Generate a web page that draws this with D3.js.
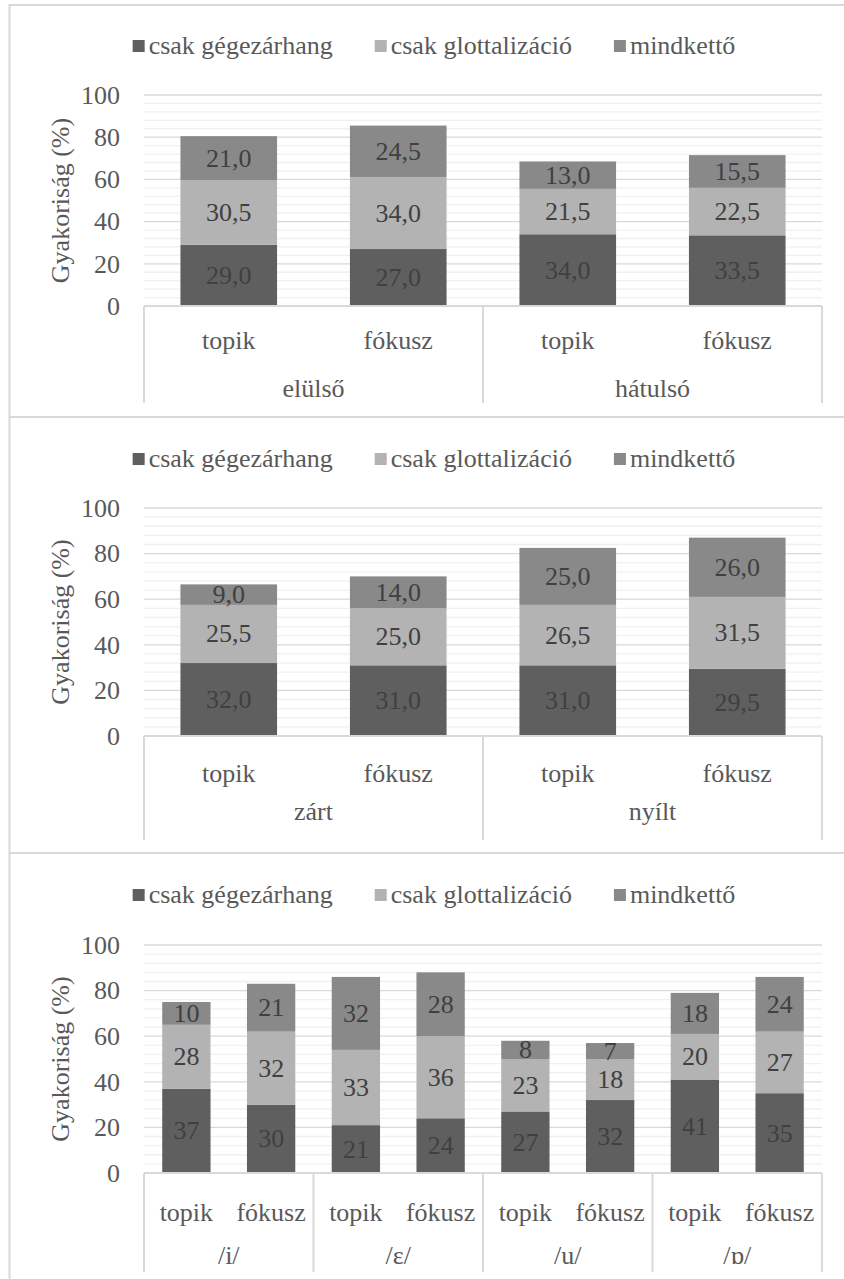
<!DOCTYPE html>
<html>
<head>
<meta charset="utf-8">
<script src="https://cdn.jsdelivr.net/npm/d3@7"></script>
<style>
  body { margin: 0; background: #fff; }
</style>
</head>
<body>
<div id="chart"></div>
<script>
// series + tick labels
var seriesNames = ["csak gégezárhang", "csak glottalizáció", "mindkettő"];
var seriesColors = ["#5f5f5f", "#b3b3b3", "#898989"];
var subCats = ["topik", "fókusz"];
var yTicks = [0, 20, 40, 60, 80, 100];

// panel 1: elülső / hátulsó
var groups1 = ["elülső", "hátulsó"];
var gege1 = [29.0, 27.0, 34.0, 33.5];
var glott1 = [30.5, 34.0, 21.5, 22.5];
var mind1 = [21.0, 24.5, 13.0, 15.5];

// panel 2: zárt / nyílt
var groups2 = ["zárt", "nyílt"];
var gege2 = [32.0, 31.0, 31.0, 29.5];
var glott2 = [25.5, 25.0, 26.5, 31.5];
var mind2 = [9.0, 14.0, 25.0, 26.0];

// panel 3: vowels
var groups3 = ["/i/", "/ɛ/", "/u/", "/ɒ/"];
var gege3 = [37, 30, 21, 24, 27, 32, 41, 35];
var glott3 = [28, 32, 33, 36, 23, 18, 20, 27];
var mind3 = [10, 21, 32, 28, 8, 7, 18, 24];

var W = 844, H = 1279;
var left = 144, right = 822;
var FONT = "'Liberation Serif', Tinos, 'Times New Roman', 'DejaVu Serif', serif";

var svg = d3.select("#chart").append("svg")
    .attr("width", W)
    .attr("height", H)
    .attr("font-family", FONT);

function txt(sel) {
  return sel.attr("font-family", FONT).attr("font-size", 26).attr("fill", "#595959");
}

function drawPanel(p) {
  var g = svg.append("g");

  // panel frame
  g.append("rect")
    .attr("x", 9.5).attr("y", p.top)
    .attr("width", 880).attr("height", p.bottom - p.top)
    .attr("fill", "none").attr("stroke", "#d9d9d9").attr("stroke-width", 2);

  var n = p.series[0].length;
  var x = d3.scaleBand().domain(d3.range(n)).range([left, right])
      .paddingInner(0.43).paddingOuter(0.215);
  var y = d3.scaleLinear().domain([0, 100]).range([p.y0, p.y100]);

  // minor + major gridlines
  g.append("g").selectAll("line").data(d3.range(0, 101, 4).filter(function(v) { return v % 20 != 0; }))
    .enter().append("line")
      .attr("x1", left).attr("x2", right)
      .attr("y1", function(d) { return y(d); }).attr("y2", function(d) { return y(d); })
      .attr("stroke", "#f0f0f0").attr("stroke-width", 1.3);
  g.append("g").selectAll("line").data(yTicks.slice(1))
    .enter().append("line")
      .attr("x1", left).attr("x2", right)
      .attr("y1", function(d) { return y(d); }).attr("y2", function(d) { return y(d); })
      .attr("stroke", "#d9d9d9").attr("stroke-width", 1.3);

  // y axis labels
  var ya = g.append("g").attr("transform", "translate(" + (left - 4) + ",0)")
    .call(d3.axisLeft(y).tickValues(yTicks).tickSize(0).tickPadding(20));
  ya.attr("font-family", FONT);
  ya.select(".domain").remove();
  txt(ya.selectAll("text"));

  txt(g.append("text"))
    .attr("transform", "translate(60," + ((p.y0 + p.y100) / 2) + ") rotate(-90)")
    .attr("text-anchor", "middle").attr("dominant-baseline", "central")
    .text("Gyakoriság (%)");

  // stacked bars
  var rows = d3.range(n).map(function(i) {
    return { i: i, a: p.series[0][i], b: p.series[1][i], c: p.series[2][i] };
  });
  var stack = d3.stack().keys(["a", "b", "c"])(rows);
  var fmt = function(v) { return p.dec ? d3.format(".1f")(v).replace(".", ",") : d3.format("d")(v); };

  stack.forEach(function(layer, k) {
    var lg = g.append("g");
    lg.selectAll("rect").data(layer).enter().append("rect")
      .attr("x", function(d, i) { return x(i); })
      .attr("width", x.bandwidth())
      .attr("y", function(d) { return y(d[1]); })
      .attr("height", function(d) { return y(d[0]) - y(d[1]); })
      .attr("fill", seriesColors[k]);
    txt(lg.selectAll("text").data(layer).enter().append("text"))
      .attr("x", function(d, i) { return x(i) + x.bandwidth() / 2; })
      .attr("y", function(d) { return y((d[0] + d[1]) / 2); })
      .attr("text-anchor", "middle").attr("dominant-baseline", "central")
      .attr("fill", "#404040")
      .text(function(d) { return fmt(d[1] - d[0]); });
  });

  // category axis box
  g.append("line").attr("x1", left).attr("x2", right)
    .attr("y1", p.y0).attr("y2", p.y0)
    .attr("stroke", "#d9d9d9").attr("stroke-width", 2);
  var per = n / p.groups.length;
  var bounds = d3.range(p.groups.length + 1).map(function(j) {
    return j == p.groups.length ? right : x(j * per) - x.step() * x.paddingOuter();
  });
  g.append("g").selectAll("line").data(bounds).enter().append("line")
    .attr("x1", function(d) { return d; }).attr("x2", function(d) { return d; })
    .attr("y1", p.y0).attr("y2", p.lineEnd)
    .attr("stroke", "#d9d9d9").attr("stroke-width", 2);

  txt(g.append("g").selectAll("text").data(d3.range(n)).enter().append("text"))
    .attr("x", function(i) { return x(i) + x.bandwidth() / 2; })
    .attr("y", p.subY)
    .attr("text-anchor", "middle").attr("dominant-baseline", "central")
    .text(function(i) { return subCats[i % 2]; });

  txt(g.append("g").selectAll("text").data(p.groups).enter().append("text"))
    .attr("x", function(d, j) { return (bounds[j] + bounds[j + 1]) / 2; })
    .attr("y", p.groupY)
    .attr("text-anchor", "middle").attr("dominant-baseline", "central")
    .text(function(d) { return d; });

  // legend
  var leg = g.append("g");
  var items = leg.selectAll("g").data(seriesNames).enter().append("g");
  items.append("rect").attr("width", 12).attr("height", 12)
    .attr("y", -5).attr("fill", function(d, i) { return seriesColors[i]; });
  txt(items.append("text")).attr("x", 16).attr("y", 0)
    .attr("dominant-baseline", "central")
    .text(function(d) { return d; });
  var pos = 0, offs = [];
  items.each(function() {
    offs.push(pos);
    pos += 16 + this.querySelector("text").getComputedTextLength() + 42;
  });
  pos -= 42;
  var start = 434 - pos / 2;
  items.attr("transform", function(d, i) { return "translate(" + (start + offs[i]) + "," + p.legY + ")"; });
}

drawPanel({ top: 5, bottom: 417, legY: 45, y100: 95, y0: 306, subY: 340, groupY: 388, lineEnd: 403,
  groups: groups1, series: [gege1, glott1, mind1], dec: true });
drawPanel({ top: 417, bottom: 853, legY: 458, y100: 508, y0: 736, subY: 773, groupY: 811, lineEnd: 840,
  groups: groups2, series: [gege2, glott2, mind2], dec: true });
drawPanel({ top: 853, bottom: 1290, legY: 894, y100: 945, y0: 1173, subY: 1212, groupY: 1255, lineEnd: 1272,
  groups: groups3, series: [gege3, glott3, mind3], dec: false });
</script>
</body>
</html>
